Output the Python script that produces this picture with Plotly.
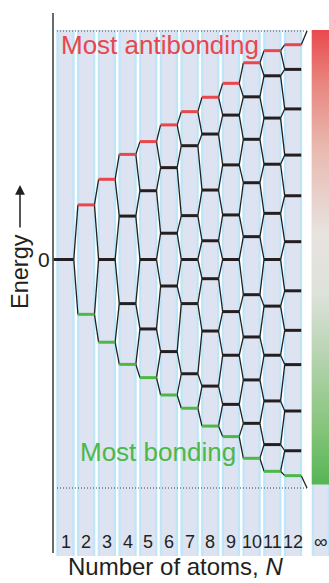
import plotly.graph_objects as go

# ---------------- data ----------------
N_LABELS = ["1", "2", "3", "4", "5", "6", "7", "8", "9", "10", "11", "12"]
INF_LABEL = "∞"

# energy levels per molecule size (arbitrary units, +-100 = band edges)
LEVELS_1 = [0]
LEVELS_2 = [23.9, -24.0]
LEVELS_3 = [35.1, 0, -36.2]
LEVELS_4 = [46.0, 19.0, -19.3, -45.9]
LEVELS_5 = [51.6, 30.1, 0, -30.4, -51.7]
LEVELS_6 = [58.9, 40.2, 11.5, -11.6, -40.3, -59.3]
LEVELS_7 = [64.7, 49.8, 19.2, 0, -19.3, -50.0, -65.1]
LEVELS_8 = [71.0, 54.9, 30.4, 8.2, -8.4, -31.3, -55.4, -72.9]
LEVELS_9 = [77.1, 63.2, 41.4, 19.5, 0, -22.8, -41.9, -63.4, -77.5]
LEVELS_10 = [86.1, 71.2, 52.6, 33.6, 10.0, -15.4, -33.9, -52.7, -71.7, -87.0]
LEVELS_11 = [91.4, 80.4, 61.9, 41.7, 20.2, 0, -20.4, -41.9, -61.9, -81.0, -92.7]
LEVELS_12 = [94.0, 83.2, 65.9, 45.7, 27.9, 7.8, -13.7, -31.0, -46.0, -66.3, -83.7, -94.6]
BAND_TOP = 100
BAND_BOTTOM = -100

LEVELS = [LEVELS_1, LEVELS_2, LEVELS_3, LEVELS_4, LEVELS_5, LEVELS_6,
          LEVELS_7, LEVELS_8, LEVELS_9, LEVELS_10, LEVELS_11, LEVELS_12]

# ---------------- style / layout constants ----------------
W, H = 329, 583
PX_X = 20.68          # pixels per column unit
X0_PX = 65.5          # pixel of column 1 centre
PX_Y = 2.285          # pixels per energy unit
Y0_PX = 259.5         # pixel of zero energy

XR = [1 - X0_PX / PX_X, 1 + (W - X0_PX) / PX_X]
YR = [(Y0_PX - H) / PX_Y, Y0_PX / PX_Y]

def xu(px):
    return 1 + (px - X0_PX) / PX_X

def yu(px):
    return (Y0_PX - px) / PX_Y

INF_POS = 13.35
LVL_HALF = 0.40
COL_OUT = 9.15 / PX_X
COL_IN = 6.9 / PX_X
COL_TOP = yu(30)
COL_BOT = yu(556)

RED = "#e8474c"
GREEN = "#4cb848"
BLACK = "#231f20"
CYAN = "#bee6f8"
LAV = "#dde3f1"

fig = go.Figure()
shapes = []

positions = list(range(1, len(LEVELS) + 1)) + [INF_POS]
for p in positions:
    shapes.append(dict(type="rect", layer="below", xref="x", yref="y",
                       x0=p - COL_OUT, x1=p + COL_OUT, y0=COL_BOT, y1=COL_TOP,
                       fillcolor=CYAN, line=dict(width=0)))
    shapes.append(dict(type="rect", layer="below", xref="x", yref="y",
                       x0=p - COL_IN, x1=p + COL_IN, y0=COL_BOT, y1=COL_TOP,
                       fillcolor=LAV, line=dict(width=0)))

# gradient bar for infinite chain
gx0, gx1 = INF_POS - COL_OUT, INF_POS + COL_OUT + 1
gy_top, gy_bot = yu(30), yu(484.5)
fig.add_trace(go.Scatter(
    x=[gx0, gx1, gx1, gx0, gx0], y=[gy_bot, gy_bot, gy_top, gy_top, gy_bot],
    mode="lines", line=dict(width=0), fill="toself",
    fillgradient=dict(type="vertical", start=gy_bot, stop=gy_top,
                      colorscale=[[0, "#55b555"], [0.12, "#84c47a"], [0.3, "#bcd5b6"],
                                  [0.42, "#dde2da"], [0.55, "#e7e3df"], [0.74, "#e9b9b0"],
                                  [0.88, "#e88780"], [1, "#e84a4e"]]),
    hoverinfo="skip", showlegend=False))

# dotted band edges
dx0, dx1 = xu(57), xu(307)
for e in (BAND_TOP, BAND_BOTTOM):
    fig.add_trace(go.Scatter(x=[dx0, dx1], y=[e, e], mode="lines",
                             line=dict(color="#444444", width=1, dash="1px,2px"),
                             hoverinfo="skip", showlegend=False))

# connectors
cx, cy = [], []
for i in range(len(LEVELS) - 1):
    n = i + 1
    a, b = LEVELS[i], LEVELS[i + 1]
    for k, e in enumerate(a):
        for j in (k, k + 1):
            cx += [n + LVL_HALF, n + 1 - LVL_HALF, None]
            cy += [e, b[j], None]
last_n = len(LEVELS)
cx += [last_n + LVL_HALF, dx1, None, last_n + LVL_HALF, dx1, None]
cy += [LEVELS[-1][0], BAND_TOP, None, LEVELS[-1][-1], BAND_BOTTOM, None]
fig.add_trace(go.Scatter(x=cx, y=cy, mode="lines",
                         line=dict(color=BLACK, width=1.3),
                         hoverinfo="skip", showlegend=False))

# levels
groups = {RED: ([], []), BLACK: ([], []), GREEN: ([], [])}
for i, lv in enumerate(LEVELS):
    n = i + 1
    for k, e in enumerate(lv):
        if len(lv) == 1:
            col = BLACK
            left = xu(53)
        elif k == 0:
            col, left = RED, n - LVL_HALF
        elif k == len(lv) - 1:
            col, left = GREEN, n - LVL_HALF
        else:
            col, left = BLACK, n - LVL_HALF
        gxs, gys = groups[col]
        gxs += [left, n + LVL_HALF, None]
        gys += [e, e, None]
for col, (gxs, gys) in groups.items():
    fig.add_trace(go.Scatter(x=gxs, y=gys, mode="lines",
                             line=dict(color=col, width=3),
                             hoverinfo="skip", showlegend=False))

# energy axis line
shapes.append(dict(type="line", xref="x", yref="y", x0=xu(53), x1=xu(53),
                   y0=yu(553), y1=yu(13), line=dict(color="#5a5a5a", width=1.8)))

ann = []
FONT = "Liberation Sans, Arial, sans-serif"
for i, lab in enumerate(N_LABELS):
    ann.append(dict(x=i + 1, y=yu(541.5), text=lab, showarrow=False,
                    font=dict(size=18, color=BLACK, family=FONT)))
ann.append(dict(x=INF_POS, y=yu(541.5), text=INF_LABEL, showarrow=False,
                font=dict(size=19, color=BLACK, family=FONT)))
ann.append(dict(x=xu(44), y=0, text="0", showarrow=False,
                font=dict(size=21, color=BLACK, family=FONT)))
ann.append(dict(x=xu(59), y=yu(45), text="Most antibonding", showarrow=False,
                xanchor="left", yanchor="middle",
                font=dict(size=26, color=RED, family=FONT)))
ann.append(dict(x=xu(78), y=yu(452), text="Most bonding", showarrow=False,
                xanchor="left", yanchor="middle",
                font=dict(size=26, color=GREEN, family=FONT)))
ann.append(dict(x=xu(175), y=yu(582), text="Number of atoms, <i>N</i>", showarrow=False,
                xanchor="center", yanchor="bottom",
                font=dict(size=24, color=BLACK, family=FONT)))
ann.append(dict(x=xu(20), y=yu(272), text="Energy", showarrow=False,
                textangle=-90, xanchor="center", yanchor="middle",
                font=dict(size=23.5, color=BLACK, family=FONT)))
# energy arrow
ann.append(dict(x=xu(20), y=yu(185), ax=xu(20), ay=yu(229), axref="x", ayref="y",
                xref="x", yref="y", text="", showarrow=True, arrowhead=2,
                arrowsize=1.3, arrowwidth=1.5, arrowcolor=BLACK))

fig.update_layout(
    width=W, height=H, margin=dict(l=0, r=0, t=0, b=0),
    paper_bgcolor="white", plot_bgcolor="white",
    xaxis=dict(range=XR, visible=False, fixedrange=True),
    yaxis=dict(range=YR, visible=False, fixedrange=True),
    shapes=shapes, annotations=ann, showlegend=False,
)
fig.write_html("out.html", config={"displayModeBar": False},
               post_script="document.body.style.margin='0';document.body.style.padding='0';document.body.style.overflow='hidden';")
